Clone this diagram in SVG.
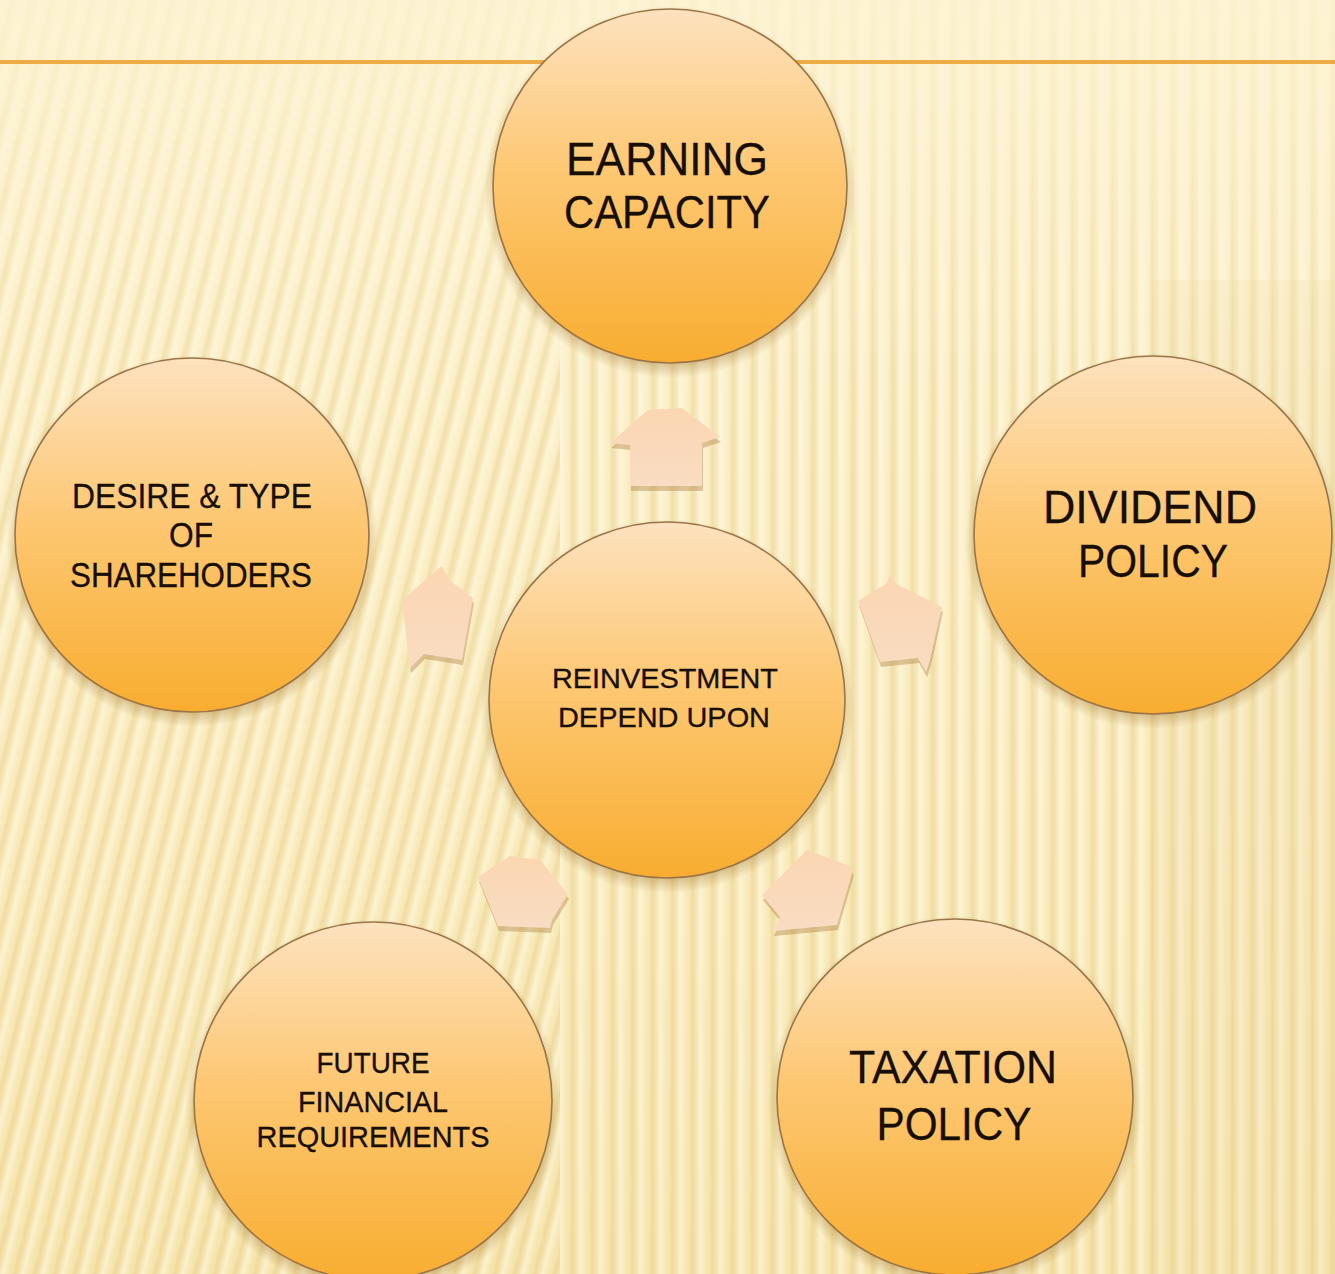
<svg xmlns="http://www.w3.org/2000/svg" width="1335" height="1274" viewBox="0 0 1335 1274">
  <defs>
    <style>
      .node-disc { fill: url(#discFill); stroke: #9a7548; stroke-width: 1.6; }
      .disc-shadow { fill: url(#discGlow); }
      .arrow { fill: url(#arrowFill); }
      .arrow-shadow { fill: #b58a4e; opacity: 0.45; }
      .label { font-family: "Liberation Sans", Arial, sans-serif; fill: #170e05; text-anchor: middle; stroke: #170e05; stroke-width: 0.3; }
      .big { font-size: 46px; }
      .mid { font-size: 35px; }
      .small { font-size: 28px; }
    </style>
    <linearGradient id="discFill" x1="0" y1="0" x2="0" y2="1">
      <stop offset="0" stop-color="#fde2bf"/>
      <stop offset="0.45" stop-color="#fdc874"/>
      <stop offset="1" stop-color="#f8ad30"/>
    </linearGradient>
    <radialGradient id="discGlow" cx="0.5" cy="0.5" r="0.5">
      <stop offset="0" stop-color="#9a6a20" stop-opacity="0.5"/>
      <stop offset="0.9" stop-color="#9a6a20" stop-opacity="0.45"/>
      <stop offset="1" stop-color="#9a6a20" stop-opacity="0"/>
    </radialGradient>
    <linearGradient id="arrowFill" x1="0" y1="0" x2="0" y2="1">
      <stop offset="0" stop-color="#fbd6b2"/>
      <stop offset="1" stop-color="#f9dcc2"/>
    </linearGradient>
    <linearGradient id="bgShade" x1="0" y1="0" x2="0" y2="1">
      <stop offset="0" stop-color="#fdf3d2"/>
      <stop offset="0.5" stop-color="#f9ebbd"/>
      <stop offset="1" stop-color="#f5e2a6"/>
    </linearGradient>
    <!-- soft vertical bands of the backdrop -->
    <linearGradient id="band" x1="0" y1="0" x2="1" y2="0">
      <stop offset="0" stop-color="#fff9e0" stop-opacity="0.7"/>
      <stop offset="0.35" stop-color="#fff9e0" stop-opacity="0.1"/>
      <stop offset="0.6" stop-color="#e6cf88" stop-opacity="0.45"/>
      <stop offset="1" stop-color="#fff9e0" stop-opacity="0.7"/>
    </linearGradient>
    <pattern id="stripes" width="20" height="40" patternUnits="userSpaceOnUse">
      <rect x="0" y="0" width="20" height="40" fill="url(#band)"/>
    </pattern>
    <pattern id="stripesSlant" width="20" height="40" patternUnits="userSpaceOnUse" patternTransform="skewX(-14)">
      <rect x="0" y="0" width="20" height="40" fill="url(#band)"/>
    </pattern>
    <linearGradient id="fadeTop" x1="0" y1="0" x2="0" y2="1">
      <stop offset="0" stop-color="#fdf3d2" stop-opacity="0.85"/>
      <stop offset="0.08" stop-color="#fdf3d2" stop-opacity="0.6"/>
      <stop offset="0.3" stop-color="#fdf3d2" stop-opacity="0"/>
    </linearGradient>
    <polygon id="arrowUp" points="610,443 630,445 630,486 702,486 702,443 720,437 682,408 648,410"/>
    <polygon id="arrowLeft" points="442,566 449,580 473,598 462,660 424,654 410,668 402,600 430,576"/>
    <polygon id="arrowRight" points="890,576 896,584 942,607 930,660 926,672 918,658 880,662 858,601 886,584"/>
    <polygon id="arrowLowLeft" points="478,877 510,856 540,860 568,894 552,920 550,928 498,926"/>
    <polygon id="arrowLowRight" points="762,895 807,850 850,866 853,870 837,925 773,931 780,917"/>
  </defs>

  <!-- striped backdrop -->
  <rect width="1335" height="1274" fill="url(#bgShade)"/>
  <rect x="0" y="0" width="560" height="1274" fill="url(#stripesSlant)"/>
  <rect x="560" y="0" width="775" height="1274" fill="url(#stripes)"/>
  <rect x="1150" y="280" width="185" height="994" fill="#e8d596" opacity="0.18"/>
  <rect width="1335" height="1274" fill="url(#fadeTop)"/>

  <!-- title rule -->
  <rect x="0" y="60" width="1335" height="4" fill="#eeac45"/>

  <!-- connectors: block arrows radiating from the hub, each with a cast shadow -->
  <g id="connectors">
    <g transform="translate(1,5)">
      <use href="#arrowUp" class="arrow-shadow"/>
      <use href="#arrowLeft" class="arrow-shadow"/>
      <use href="#arrowRight" class="arrow-shadow"/>
      <use href="#arrowLowLeft" class="arrow-shadow"/>
      <use href="#arrowLowRight" class="arrow-shadow"/>
    </g>
    <use href="#arrowUp" class="arrow"/>
    <use href="#arrowLeft" class="arrow"/>
    <use href="#arrowRight" class="arrow"/>
    <use href="#arrowLowLeft" class="arrow"/>
    <use href="#arrowLowRight" class="arrow"/>
  </g>

  <g id="node-earning">
    <circle class="disc-shadow" cx="670" cy="192" r="186"/>
    <circle class="node-disc" cx="670" cy="186" r="177"/>
    <text class="label big" x="667" y="175" textLength="202" lengthAdjust="spacingAndGlyphs">EARNING</text>
    <text class="label big" x="667" y="228" textLength="206" lengthAdjust="spacingAndGlyphs">CAPACITY</text>
  </g>

  <g id="node-shareholders">
    <circle class="disc-shadow" cx="192" cy="541" r="186"/>
    <circle class="node-disc" cx="192" cy="535" r="177"/>
    <text class="label mid" x="192" y="508" textLength="240" lengthAdjust="spacingAndGlyphs">DESIRE &amp; TYPE</text>
    <text class="label mid" x="191" y="547" textLength="44" lengthAdjust="spacingAndGlyphs">OF</text>
    <text class="label mid" x="191" y="587" textLength="242" lengthAdjust="spacingAndGlyphs">SHAREHODERS</text>
  </g>

  <g id="node-dividend">
    <circle class="disc-shadow" cx="1153" cy="541" r="188"/>
    <circle class="node-disc" cx="1153" cy="535" r="179"/>
    <text class="label big" x="1150" y="523" textLength="214" lengthAdjust="spacingAndGlyphs">DIVIDEND</text>
    <text class="label big" x="1153" y="577" textLength="150" lengthAdjust="spacingAndGlyphs">POLICY</text>
  </g>

  <g id="node-reinvestment">
    <circle class="disc-shadow" cx="667" cy="706" r="187"/>
    <circle class="node-disc" cx="667" cy="700" r="178"/>
    <text class="label small" x="665" y="688" textLength="226" lengthAdjust="spacingAndGlyphs">REINVESTMENT</text>
    <text class="label small" x="664" y="727" textLength="212" lengthAdjust="spacingAndGlyphs">DEPEND UPON</text>
  </g>

  <g id="node-future">
    <circle class="disc-shadow" cx="373" cy="1107" r="188"/>
    <circle class="node-disc" cx="373" cy="1101" r="179"/>
    <text class="label small" x="373" y="1073" style="font-size:29px" textLength="113" lengthAdjust="spacingAndGlyphs">FUTURE</text>
    <text class="label small" x="373" y="1112" style="font-size:29px" textLength="150" lengthAdjust="spacingAndGlyphs">FINANCIAL</text>
    <text class="label small" x="373" y="1147" style="font-size:29px" textLength="233" lengthAdjust="spacingAndGlyphs">REQUIREMENTS</text>
  </g>

  <g id="node-taxation">
    <circle class="disc-shadow" cx="955" cy="1103" r="187"/>
    <circle class="node-disc" cx="955" cy="1097" r="178"/>
    <text class="label big" x="953" y="1083" textLength="208" lengthAdjust="spacingAndGlyphs">TAXATION</text>
    <text class="label big" x="954" y="1140" textLength="155" lengthAdjust="spacingAndGlyphs">POLICY</text>
  </g>
</svg>
